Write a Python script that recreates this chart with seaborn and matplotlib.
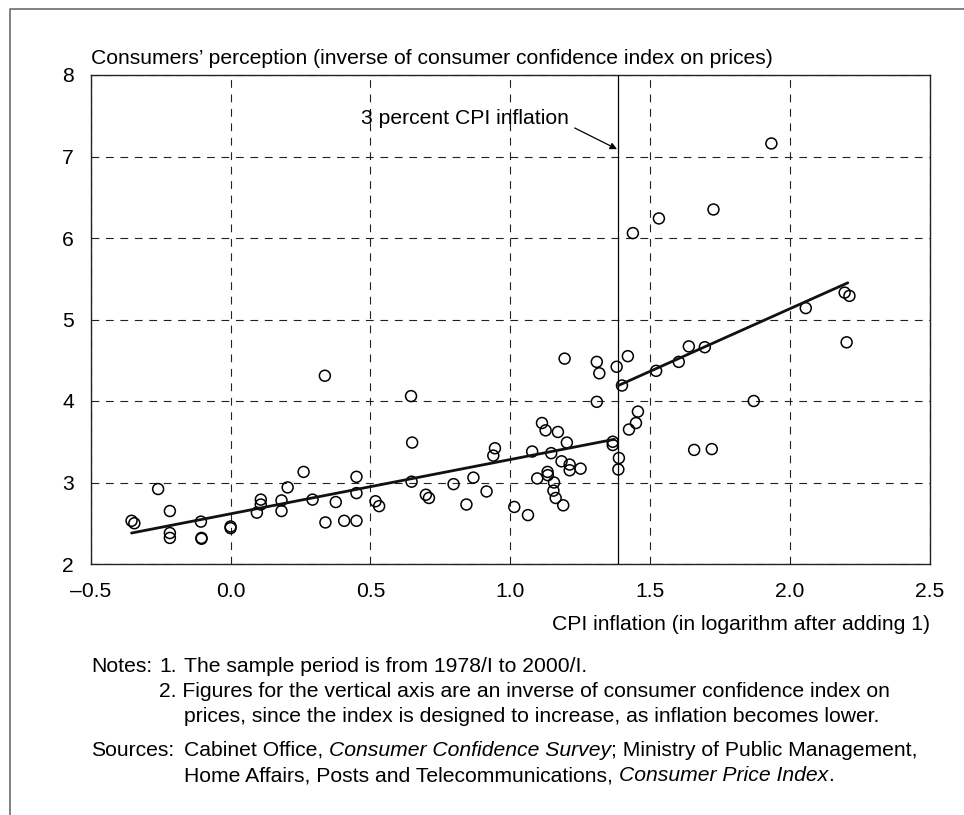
import numpy as np
import pandas as pd
import matplotlib
matplotlib.use("Agg")
import matplotlib.pyplot as plt
from matplotlib.lines import Line2D
import seaborn as sns

# CPI inflation (log of inflation + 1) and inverse consumer confidence on prices
cpi_inflation = [
    -0.354, -0.344, -0.259, -0.217, -0.217, -0.217, -0.106, -0.104, -0.104, 0.0,
    0.0, 0.094, 0.108, 0.108, 0.182, 0.182, 0.204, 0.261, 0.293, 0.339,
    0.337, 0.376, 0.406, 0.45, 0.45, 0.45, 0.518, 0.531,
    0.645, 0.649, 0.647, 0.698, 0.709, 0.797, 0.843, 0.868, 0.915, 0.939,
    0.945, 1.014, 1.063, 1.078, 1.096, 1.113, 1.126, 1.133, 1.134, 1.146,
    1.154, 1.156, 1.162, 1.17, 1.183, 1.189, 1.194, 1.202, 1.212, 1.212,
    1.251, 1.309, 1.318, 1.309, 1.366, 1.366, 1.38, 1.388, 1.386,
    1.399, 1.42, 1.424, 1.449, 1.456, 1.438, 1.521, 1.531, 1.602, 1.638,
    1.657, 1.695, 1.72, 1.726, 1.87, 1.933, 2.056, 2.195, 2.212, 2.202,
]
price_perception = [
    2.53, 2.50, 2.92, 2.65, 2.38, 2.32, 2.52, 2.31, 2.32, 2.44,
    2.46, 2.63, 2.79, 2.73, 2.78, 2.65, 2.94, 3.13, 2.79, 2.51,
    4.31, 2.76, 2.53, 3.07, 2.87, 2.53, 2.77, 2.71,
    4.06, 3.49, 3.01, 2.85, 2.81, 2.98, 2.73, 3.06, 2.89, 3.33,
    3.42, 2.70, 2.60, 3.38, 3.05, 3.73, 3.64, 3.13, 3.09, 3.36,
    2.90, 3.00, 2.81, 3.62, 3.26, 2.72, 4.52, 3.49, 3.22, 3.15,
    3.17, 4.48, 4.34, 3.99, 3.50, 3.46, 4.42, 3.30, 3.16,
    4.19, 4.55, 3.65, 3.73, 3.87, 6.06, 4.37, 6.24, 4.48, 4.67,
    3.40, 4.66, 3.41, 6.35, 4.00, 7.16, 5.14, 5.33, 5.29, 4.72,
]

# fitted lines below and above the 3 percent threshold
fit_low_x = [-0.354, 1.372]
fit_low_y = [2.38, 3.53]
fit_high_x = [1.386, 2.206]
fit_high_y = [4.19, 5.45]

threshold = np.log(1 + 3)  # 3 percent CPI inflation

x_ticks = [-0.5, 0.0, 0.5, 1.0, 1.5, 2.0, 2.5]
x_tick_labels = ["\u20130.5", "0.0", "0.5", "1.0", "1.5", "2.0", "2.5"]
y_ticks = [2, 3, 4, 5, 6, 7, 8]

FS = 15.2

sns.set_style("white")
plt.rcParams["font.family"] = ["Liberation Sans", "DejaVu Sans"]
plt.rcParams["font.size"] = FS
plt.rcParams["text.color"] = "black"

W, H = 964, 815
fig = plt.figure(figsize=(W / 100, H / 100), dpi=100)
ax = fig.add_axes([90.7 / W, 1 - 564 / H, (930 - 90.7) / W, (564 - 75) / H])

df = pd.DataFrame({"x": cpi_inflation, "y": price_perception})
sns.scatterplot(data=df, x="x", y="y", ax=ax, marker="o", s=62,
                facecolor="none", edgecolor="black", linewidth=1.1, zorder=4)

sns.lineplot(x=fit_low_x, y=fit_low_y, ax=ax, color="#111111", lw=2.0, zorder=5)
sns.lineplot(x=fit_high_x, y=fit_high_y, ax=ax, color="#111111", lw=2.0, zorder=5)

ax.axvline(threshold, color="black", lw=0.9, zorder=3)

ax.set_xlim(-0.5, 2.5)
ax.set_ylim(2, 8)
ax.set_xticks(x_ticks)
ax.set_xticklabels(x_tick_labels)
ax.set_yticks(y_ticks)
ax.set_xlabel("")
ax.set_ylabel("")
ax.tick_params(axis="both", direction="in", length=4, width=0.8, colors="black",
               labelsize=FS)
ax.tick_params(axis="x", pad=13)
ax.tick_params(axis="y", pad=12)

ax.grid(True, color="#222222", lw=0.8, linestyle=(0, (7, 6)))
for s in ax.spines.values():
    s.set_color("#222222")
    s.set_linewidth(1.0)

ax.text(1.21, 7.47, "3 percent CPI inflation", ha="right", va="center", fontsize=FS)
ax.annotate("", xy=(threshold - 0.005, 7.09), xytext=(1.23, 7.35),
            arrowprops=dict(arrowstyle="-|>", color="black", lw=0.9,
                            mutation_scale=10, shrinkA=0, shrinkB=0))

# axis titles
fig.text(91 / W, 1 - 63.5 / H, "Consumers\u2019 perception (inverse of consumer confidence index on prices)",
         ha="left", va="baseline", fontsize=FS)
fig.text(930 / W, 1 - 630 / H, "CPI inflation (in logarithm after adding 1)",
         ha="right", va="baseline", fontsize=FS)

# notes with italic runs
renderer = fig.canvas.get_renderer()


def draw_runs(x_px, y_px, runs):
    x = x_px
    for txt, style in runs:
        t = fig.text(x / W, 1 - y_px / H, txt, ha="left", va="baseline",
                     fontsize=FS, fontstyle=style)
        x += t.get_window_extent(renderer).width


draw_runs(91, 672, [("Notes:", "normal")])
draw_runs(159, 672, [("1.", "normal")])
draw_runs(184, 672, [("The sample period is from 1978/I to 2000/I.", "normal")])
draw_runs(159, 697, [("2. Figures for the vertical axis are an inverse of consumer confidence index on", "normal")])
draw_runs(184, 722, [("prices, since the index is designed to increase, as inflation becomes lower.", "normal")])
draw_runs(91, 756, [("Sources:", "normal")])
draw_runs(184, 756, [("Cabinet Office, ", "normal"), ("Consumer Confidence Survey", "italic"),
                     ("; Ministry of Public Management,", "normal")])
draw_runs(184, 781, [("Home Affairs, Posts and Telecommunications, ", "normal"),
                     ("Consumer Price Index", "italic"), (".", "normal")])

# outer frame (left and top edges)
fig.add_artist(Line2D([9.5 / W, 9.5 / W, 1.0], [0.0, 1 - 9 / H, 1 - 9 / H],
                      transform=fig.transFigure, color="#777777", lw=1.3))

fig.savefig("out.png", dpi=100)
